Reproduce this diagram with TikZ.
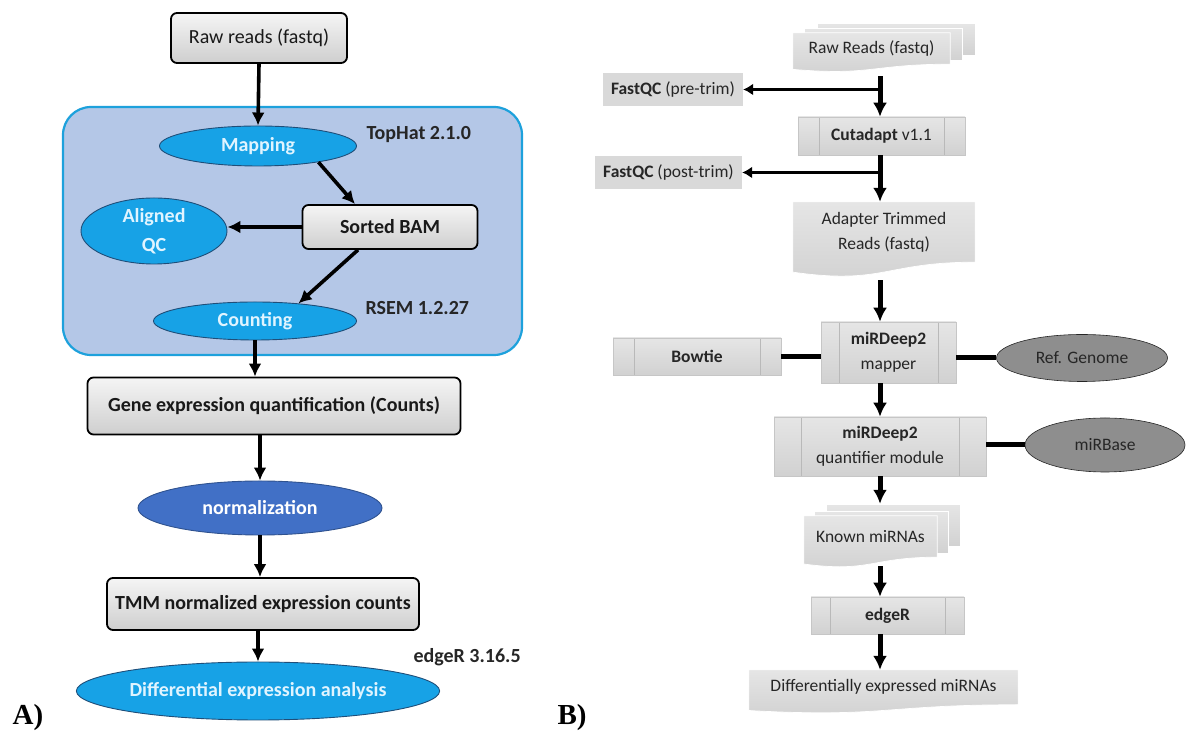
\documentclass[tikz,border=0pt]{standalone}
\usepackage{fontspec}
\setmainfont{Carlito}
\newfontfamily\panelfont{Liberation Serif}
\usepackage{xcolor}
\usetikzlibrary{shapes, arrows.meta, calc, backgrounds}

\definecolor{cyanA}{HTML}{17A2E6}
\definecolor{cyantxt}{HTML}{E0F4FF}
\definecolor{blueline}{HTML}{1F4E79}
\definecolor{normfill}{HTML}{4170C6}
\definecolor{normline}{HTML}{2F528F}
\definecolor{regfill}{HTML}{B4C7E7}
\definecolor{regline}{HTML}{1DA1DC}
\definecolor{txtB}{HTML}{262626}
\definecolor{ovalfill}{HTML}{8E8E8E}

% outline of a document sheet with a wavy bottom
\newcommand\docpath[1]{(#1.north west) -- (#1.north east) -- (#1.south east)
  .. controls (#1.south) and ($(#1.south)!-0.38!(#1.north)$)
  .. ($(#1.south west)!-0.165!(#1.north west)$) -- cycle}

\begin{document}
\begin{tikzpicture}[x=1pt,y=1pt]
\tikzstyle{every node}=[font=\fontsize{20}{23}\selectfont]
\tikzstyle{boxA}=[draw=black, line width=1.8pt, rounded corners=6pt, top color=gray!8, bottom color=gray!38, inner sep=0pt, text=black!90]
\tikzstyle{ovalA}=[ellipse, draw=blueline, line width=0.9pt, fill=cyanA, text=cyantxt, font=\fontsize{20}{29}\selectfont\bfseries, inner sep=0pt, align=center]
\tikzstyle{toolA}=[anchor=west, font=\fontsize{20}{23}\selectfont\bfseries, text=black!85]
\tikzstyle{flowA}=[line width=3.6pt, -{Latex[length=13pt,width=13pt]}]
\tikzstyle{sheet}=[top color=gray!20, bottom color=gray!36, draw=white, line width=0.7pt]
\tikzstyle{docB}=[inner sep=0pt, text=txtB, align=center, font=\fontsize{17.5}{25}\selectfont]
\tikzstyle{plainB}=[fill=gray!30, inner sep=0pt, text=txtB, font=\fontsize{17.5}{25}\selectfont]
\tikzstyle{ovalB}=[ellipse, fill=ovalfill, draw=gray!30!black, line width=0.6pt, inner sep=0pt, text=txtB, font=\fontsize{17.5}{25}\selectfont]
\tikzstyle{flowB}=[line width=5pt, -{Latex[length=14pt,width=14pt]}]
\tikzstyle{sideB}=[line width=3pt, -{Latex[length=10pt,width=12pt]}]
\tikzstyle{linkB}=[line width=5pt]
\tikzset{procB/.style={top color=gray!20, bottom color=gray!36, draw=gray!45, line width=0.5pt,
    inner sep=0pt, text=txtB, align=center, font=\fontsize{17.5}{25}\selectfont,
    path picture={\draw[gray!55, line width=0.6pt]
      ([xshift=#1]path picture bounding box.north west) -- ([xshift=#1]path picture bounding box.south west)
      ([xshift=-#1]path picture bounding box.north east) -- ([xshift=-#1]path picture bounding box.south east);}},
  procB/.default=20pt}

\useasboundingbox (0,0) rectangle (1188,738);

%% A) RNA-seq pipeline
\node (regA)[draw=regline, line width=2.2pt, fill=regfill, rounded corners=28pt, minimum width=459pt, minimum height=248pt] at (292.5,507) {};
\node (rawA)[boxA, minimum width=176pt, minimum height=50pt] at (259,700) {Raw reads (fastq)};
\node (map)[ovalA, minimum width=197pt, minimum height=40pt] at (258,592) {Mapping};
\node (tophat)[toolA] at (363,603) {TopHat 2.1.0};
\node (bam)[boxA, font=\fontsize{20}{23}\selectfont\bfseries, minimum width=175pt, minimum height=44pt] at (390,511) {Sorted BAM};
\node (aqc)[ovalA, minimum width=146pt, minimum height=66pt] at (154,507) {Aligned\\QC};
\node (count)[ovalA, minimum width=203pt, minimum height=38pt] at (255,417) {Counting};
\node (rsem)[toolA] at (362,430) {RSEM 1.2.27};
\node (gene)[boxA, font=\fontsize{20}{23}\selectfont\bfseries, minimum width=373pt, minimum height=57pt] at (274,332) {Gene expression quantification (Counts)};
\node (norm)[ovalA, fill=normfill, draw=normline, text=white, minimum width=244pt, minimum height=54pt] at (260,230) {normalization};
\node (tmm)[boxA, font=\fontsize{20}{23}\selectfont\bfseries, minimum width=312pt, minimum height=52pt] at (263,134) {TMM normalized expression counts};
\node (diff)[ovalA, minimum width=328pt, minimum height=58pt] at (258,47) {Differential expression analysis};
\node (edger)[toolA] at (410,81) {edgeR 3.16.5};
\node (labA)[font=\fontsize{29}{32}\panelfont\bfseries] at (28,20) {A)};

\draw[flowA] (rawA.south) -- (map.north);
\draw[flowA] (map.-15) -- ([xshift=-35pt]bam.north);
\draw[flowA] (bam.west) -- (bam.west -| aqc.east);
\draw[flowA] ([xshift=-32pt]bam.south) -- (count.22);
\draw[flowA] (count.south) -- (count.south |- gene.north);
\draw[flowA] (norm |- gene.south) -- (norm.north);
\draw[flowA] (norm.south) -- (norm.south |- tmm.north);
\draw[flowA] (tmm.south -| diff) -- (diff.north);

%% B) small RNA pipeline
\node (rawB)[docB, minimum width=157pt, minimum height=31pt] at (871.5,689.5) {Raw Reads (fastq)};
\node (fqpre)[plainB, minimum width=140pt, minimum height=33pt] at (673,648.5) {\textbf{FastQC} (pre-trim)};
\node (cut)[procB=21pt, minimum width=167pt, minimum height=38pt] at (881.5,602) {\textbf{Cutadapt} v1.1};
\node (fqpost)[plainB, minimum width=147pt, minimum height=33pt] at (668.5,565.5) {\textbf{FastQC} (post-trim)};
\node (adapt)[docB, minimum width=182pt, minimum height=60pt] at (884,506) {Adapter Trimmed\\Reads (fastq)};
\node (mapper)[procB=18pt, minimum width=135pt, minimum height=61pt] at (888.5,385.5) {\textbf{miRDeep2}\\mapper};
\node (bowtie)[procB=21pt, minimum width=168pt, minimum height=37pt] at (697,381.5) {\textbf{Bowtie}};
\node (refg)[ovalB, minimum width=171pt, minimum height=47pt] at (1082,380) {Ref. Genome};
\node (quant)[procB=27pt, minimum width=212pt, minimum height=59pt] at (880,291.5) {\textbf{miRDeep2}\\quantifier module};
\node (mirb)[ovalB, minimum width=160pt, minimum height=54pt] at (1105,293) {miRBase};
\node (known)[docB, minimum width=133pt, minimum height=41pt] at (870.5,201.5) {Known miRNAs};
\node (edgeRB)[procB=19pt, minimum width=153pt, minimum height=37pt] at (887.5,122.5) {\textbf{edgeR}};
\node (demir)[docB, minimum width=269pt, minimum height=34.5pt] at (883.5,50.7) {Differentially expressed miRNAs};
\node (labB)[font=\fontsize{29}{32}\panelfont\bfseries] at (572,20) {B)};

\begin{scope}[on background layer]
  \draw[sheet] ([shift={(25pt,9pt)}]rawB.north west) rectangle ([shift={(25pt,9pt)}]rawB.south east);
  \draw[sheet] ([shift={(12pt,4pt)}]rawB.north west) rectangle ([shift={(12pt,4pt)}]rawB.south east);
  \draw[sheet] \docpath{rawB};
  \draw[sheet] \docpath{adapt};
  \draw[sheet] ([shift={(23pt,11pt)}]known.north west) rectangle ([shift={(23pt,11pt)}]known.south east);
  \draw[sheet] ([shift={(11pt,4pt)}]known.north west) rectangle ([shift={(11pt,4pt)}]known.south east);
  \draw[sheet] \docpath{known};
  \draw[sheet] \docpath{demir};
\end{scope}

\coordinate (colB) at (880,0);
\draw[flowB, shorten <=12pt] (rawB.south -| colB) -- (cut.north -| colB);
\draw[sideB] (colB |- fqpre) -- (fqpre.east);
\draw[flowB] (cut.south -| colB) -- (adapt.north -| colB);
\draw[sideB] (colB |- fqpost) -- (fqpost.east);
\draw[flowB, shorten <=18pt] (adapt.south -| colB) -- (mapper.north -| colB);
\draw[flowB] (mapper.south -| colB) -- (quant.north -| colB);
\draw[flowB, shorten >=12pt] (quant.south -| colB) -- (known.north -| colB);
\draw[flowB, shorten <=9pt] (known.south -| colB) -- (edgeRB.north -| colB);
\draw[flowB] (edgeRB.south -| colB) -- (demir.north -| colB);
\draw[linkB] (bowtie.east) -- (bowtie.east -| mapper.west);
\draw[linkB] (mapper.east |- refg) -- (refg.west);
\draw[linkB] (quant.east |- mirb) -- (mirb.west);
\end{tikzpicture}
\end{document}
